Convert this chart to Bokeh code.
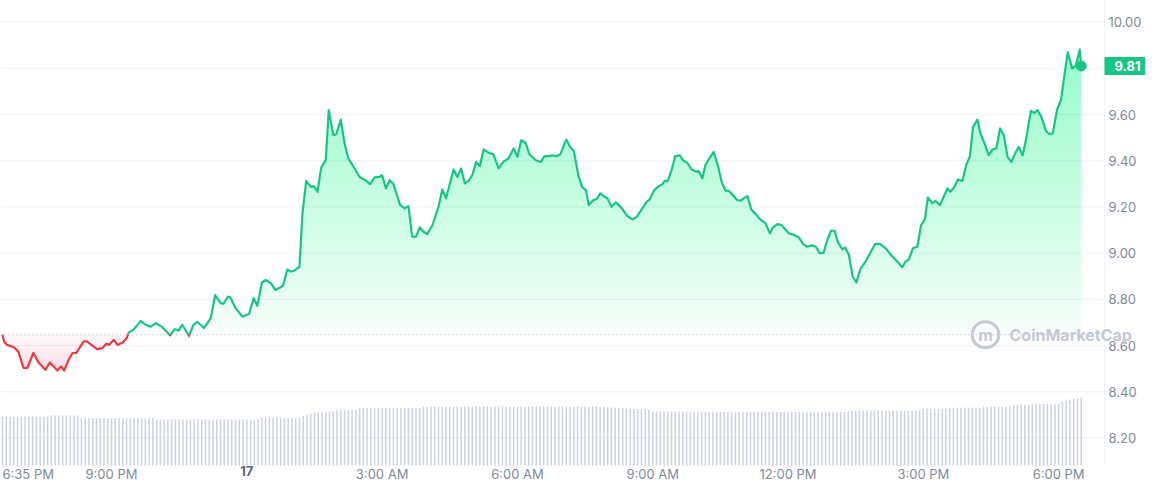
import numpy as np
from bokeh.plotting import figure
from bokeh.models import Range1d, FixedTicker, PrintfTickFormatter, Span, Label
from bokeh.embed import file_html
from bokeh.resources import INLINE

# ---------------- data ----------------
START = 1115  # 6:35 PM (minutes after midnight of the 16th)

# minutes after 6:35 PM
price_t = [0, 2, 6, 15, 21, 28, 33, 41, 48, 57, 63, 68, 73, 78, 82, 88, 93, 98, 108, 112,
           120, 126, 133, 138, 142, 148, 153, 160, 165, 168, 174, 184, 190, 197, 204, 212, 223, 229, 234, 239,
           248, 254, 259, 268, 277, 283, 290, 294, 300, 303, 310, 319, 328, 334, 339, 345, 350, 357, 363, 373,
           379, 383, 388, 395, 399, 404, 410, 414, 419, 424, 430, 434, 440, 444, 450, 455, 460, 467, 475, 481,
           489, 495, 501, 505, 510, 515, 520, 529, 535, 540, 545, 550, 555, 560, 565, 572, 580, 585, 590, 600,
           605, 610, 615, 620, 625, 630, 635, 640, 647, 653, 660, 666, 673, 680, 685, 690, 696, 701, 709, 716,
           721, 727, 731, 737, 742, 750, 755, 760, 766, 771, 776, 780, 785, 791, 795, 801, 805, 810, 816, 824,
           831, 838, 844, 851, 857, 861, 867, 873, 878, 881, 885, 890, 895, 901, 906, 911, 917, 923, 926, 931,
           935, 941, 946, 952, 957, 962, 966, 973, 977, 982, 986, 991, 996, 1002, 1008, 1015, 1021, 1025, 1031, 1036,
           1040, 1046, 1053, 1059, 1065, 1070, 1077, 1082, 1087, 1092, 1097, 1102, 1107, 1111, 1117, 1121, 1126, 1131, 1136, 1141,
           1148, 1154, 1161, 1167, 1175, 1182, 1189, 1197, 1201, 1206, 1211, 1217, 1222, 1227, 1231, 1237, 1241, 1247, 1251, 1257,
           1261, 1266, 1271, 1277, 1282, 1287, 1291, 1297, 1301, 1305, 1312, 1317, 1322, 1327, 1332, 1337, 1342, 1348, 1352, 1357,
           1361, 1368, 1373, 1377, 1382, 1388, 1393, 1397, 1403, 1408, 1413, 1417, 1423, 1428, 1433, 1435]

price_v = [8.647, 8.618, 8.603, 8.593, 8.574, 8.503, 8.503, 8.568, 8.527, 8.495, 8.527, 8.510, 8.492, 8.510, 8.492, 8.539, 8.568, 8.568, 8.618, 8.618,
           8.599, 8.585, 8.589, 8.608, 8.603, 8.625, 8.603, 8.613, 8.632, 8.657, 8.668, 8.707, 8.690, 8.682, 8.697, 8.682, 8.644, 8.671, 8.665, 8.690,
           8.642, 8.690, 8.703, 8.676, 8.719, 8.819, 8.784, 8.781, 8.812, 8.809, 8.762, 8.726, 8.737, 8.805, 8.772, 8.873, 8.884, 8.870, 8.841, 8.858,
           8.930, 8.920, 8.924, 8.942, 9.172, 9.313, 9.287, 9.290, 9.266, 9.371, 9.403, 9.619, 9.511, 9.515, 9.578, 9.475, 9.410, 9.374, 9.330, 9.319,
           9.299, 9.328, 9.330, 9.338, 9.280, 9.316, 9.299, 9.208, 9.194, 9.204, 9.071, 9.071, 9.112, 9.093, 9.083, 9.122, 9.201, 9.276, 9.237, 9.362,
           9.330, 9.367, 9.302, 9.313, 9.338, 9.395, 9.377, 9.449, 9.434, 9.428, 9.367, 9.395, 9.410, 9.453, 9.417, 9.489, 9.477, 9.428, 9.403, 9.395,
           9.420, 9.420, 9.424, 9.420, 9.428, 9.492, 9.460, 9.443, 9.338, 9.287, 9.273, 9.208, 9.227, 9.237, 9.259, 9.244, 9.237, 9.201, 9.220, 9.194,
           9.161, 9.146, 9.158, 9.194, 9.222, 9.233, 9.273, 9.290, 9.299, 9.313, 9.313, 9.359, 9.420, 9.423, 9.400, 9.391, 9.362, 9.352, 9.356, 9.324,
           9.381, 9.414, 9.438, 9.374, 9.305, 9.270, 9.270, 9.247, 9.230, 9.227, 9.237, 9.247, 9.190, 9.169, 9.146, 9.129, 9.086, 9.112, 9.126, 9.122,
           9.108, 9.086, 9.079, 9.069, 9.040, 9.028, 9.034, 9.028, 9.000, 9.000, 9.054, 9.097, 9.097, 9.050, 9.017, 9.025, 8.992, 8.898, 8.873, 8.930,
           8.963, 9.000, 9.040, 9.040, 9.021, 8.992, 8.968, 8.939, 8.963, 8.974, 9.021, 9.028, 9.122, 9.146, 9.241, 9.216, 9.227, 9.208, 9.237, 9.280,
           9.266, 9.285, 9.319, 9.313, 9.381, 9.420, 9.546, 9.578, 9.518, 9.486, 9.424, 9.449, 9.453, 9.540, 9.511, 9.417, 9.395, 9.438, 9.460, 9.424,
           9.482, 9.616, 9.607, 9.619, 9.590, 9.529, 9.515, 9.518, 9.622, 9.662, 9.777, 9.870, 9.799, 9.813, 9.881, 9.810]

# 24h volume, one bar per 5 minutes (relative units)
volume = [197, 197, 197, 197, 197, 197, 197, 197, 197, 197, 197, 197, 197,
          201, 201, 201, 201, 201, 201, 201, 201,
          191, 191, 191, 191, 191, 191, 191, 191, 191, 191, 191, 191, 191, 191, 191, 191, 191, 191, 191, 191,
          185, 185, 185, 185, 185, 185, 185, 185, 185, 185, 185, 185, 185, 185, 185, 185, 185, 185, 185, 185,
          185, 185, 185, 185, 185, 185, 185, 185,
          192, 192, 192, 192, 192, 192, 192, 192, 192, 192, 192,
          200, 204, 208, 212, 214, 216, 216, 217, 218,
          224, 224, 224, 224, 224, 224,
          231, 231, 231, 231, 231, 231, 231, 231, 231, 231, 231, 231, 231, 231, 231, 231, 231,
          237, 237, 237, 237, 237, 237, 237, 237, 237, 237, 237, 237, 237, 237, 237, 237, 237, 237, 237, 237,
          237, 237, 237, 237, 237, 237, 237, 237, 237, 237, 237, 237, 237, 237, 237, 237, 237, 237, 237, 237,
          237, 237, 237, 237, 237, 237, 237, 237,
          235, 234, 233, 232, 232, 231, 230, 229, 228, 227, 226, 225, 224,
          217, 217, 217, 217, 217, 217, 217, 217, 217, 217, 217, 217, 217,
          215, 215, 215, 215, 215, 215, 215, 215, 215, 215, 215, 215, 215, 215, 215, 215, 215, 215, 215,
          216, 216, 216, 216, 216, 216, 216, 216, 216, 216, 216, 216, 216, 216, 216, 216, 216, 216, 216, 216, 216,
          221, 221, 221, 221, 221, 221, 221, 221, 221, 221, 221, 221, 221, 221, 221, 221, 221, 221, 221,
          228, 228, 228, 228, 228, 228, 228,
          232, 232, 232, 232, 232, 232, 232, 232, 232,
          237, 237, 237, 237, 237, 237, 237, 237,
          244, 244, 244, 244, 244,
          248, 248, 248, 248, 248, 248, 248, 248,
          257, 260, 264, 268, 272, 275]

x_ticks = [1260, 1440, 1620, 1800, 1980, 2160, 2340, 2520]
x_labels = ["9:00 PM", "17", "3:00 AM", "6:00 AM", "9:00 AM", "12:00 PM", "3:00 PM", "6:00 PM"]
start_label = "6:35 PM"
y_ticks = [8.2, 8.4, 8.6, 8.8, 9.0, 9.2, 9.4, 9.6, 9.8, 10.0]
y_label_ticks = [8.2, 8.4, 8.6, 8.8, 9.0, 9.2, 9.4, 9.6, 10.0]

# ---------------- styles / layout ----------------
GREEN = "#16c784"
RED = "#ea3943"
GRAY = "#808a9d"
FONT = "Inter"

PX_PER_MIN = 0.7517
PX_PER_UNIT = 231.5
W, H = 1145, 484
X0 = 1112.3
X1 = X0 + W / PX_PER_MIN
X_EDGE = X0 + 1104 / PX_PER_MIN          # right edge of the plotting area
Y1 = 10 + 21.7 / PX_PER_UNIT
Y0 = Y1 - H / PX_PER_UNIT
Y_BOTTOM = Y1 - 466 / PX_PER_UNIT         # bottom of the plotting area
Y_LABEL = Y1 - 466 / PX_PER_UNIT          # top of the time labels
VOL_PER_PX = 4.0

x = START + np.array(price_t, dtype=float)
y = np.array(price_v, dtype=float)
base = y[0]


def with_crossings(xs, ys, level):
    ox, oy = [xs[0]], [ys[0]]
    for i in range(len(xs) - 1):
        y0, y1 = ys[i], ys[i + 1]
        if (y0 - level) * (y1 - level) < 0:
            t = (level - y0) / (y1 - y0)
            ox.append(xs[i] + t * (xs[i + 1] - xs[i]))
            oy.append(level)
        ox.append(xs[i + 1])
        oy.append(y1)
    return np.array(ox), np.array(oy)


p = figure(width=W, height=H,
           x_range=Range1d(X0, X1), y_range=Range1d(Y0, Y1),
           y_axis_location="right", output_backend="svg", toolbar_location=None,
           min_border_left=0, min_border_right=0, min_border_top=0, min_border_bottom=0,
           background_fill_color="white", border_fill_color="white", outline_line_color=None)
p.xgrid.grid_line_color = None
p.ygrid.grid_line_color = None

# volume bars (zero at the bottom of the plotting area)
p.extra_y_ranges = {"vol": Range1d(-(H - 466) * VOL_PER_PX, 466 * VOL_PER_PX)}
vol_x = START + 5 * np.arange(len(volume))
p.vbar(x=vol_x, top=volume, bottom=0, width=2.0, y_range_name="vol",
       fill_color="#ccd2e1", line_color=None)

# horizontal grid lines, ending at the plotting-area edge
p.segment(x0=X0, x1=X_EDGE, y0=y_ticks, y1=y_ticks, line_color="#eff1f4", line_width=1,
          level="underlay")
p.segment(x0=X_EDGE, x1=X_EDGE, y0=Y_BOTTOM, y1=Y1, line_color="#f1f3f6", line_width=1,
          level="underlay")

# baseline (opening price)
p.segment(x0=X0, x1=X_EDGE, y0=base, y1=base, line_color="#a9b1c0",
          line_dash="1 3", line_width=1, level="underlay")

# green gradient fill (stacked translucent layers)
g_levels = np.arange(base, 9.95, 0.025)
for k, lo in enumerate(g_levels):
    xs, ys = with_crossings(x, y, lo)
    a = 0.04 if k == 0 else 0.0065
    p.varea(x=xs, y1=lo, y2=np.maximum(ys, lo), fill_color=GREEN, fill_alpha=a)

# red gradient fill
r_levels = np.arange(base, 8.48, -0.01)
for k, hi in enumerate(r_levels):
    xs, ys = with_crossings(x, y, hi)
    a = 0.03 if k == 0 else 0.008
    p.varea(x=xs, y1=np.minimum(ys, hi), y2=hi, fill_color=RED, fill_alpha=a)

# price line split at baseline
xa, ya = with_crossings(x, y, base)
green_y = np.where(ya >= base - 1e-9, ya, np.nan)
red_y = np.where(ya <= base + 1e-9, ya, np.nan)
p.line(xa, green_y, line_color=GREEN, line_width=2.2, line_join="round")
p.line(xa, red_y, line_color=RED, line_width=2.2, line_join="round")
p.scatter(x=[x[-1]], y=[y[-1]], size=10, fill_color=GREEN, line_color=GREEN)

# axes (labels drawn inward, over the white margin of the plotting area)
p.yaxis.ticker = FixedTicker(ticks=y_label_ticks)
p.yaxis.formatter = PrintfTickFormatter(format="%.2f")
p.yaxis.axis_line_color = None
p.yaxis.major_tick_line_color = None
p.yaxis.minor_tick_line_color = None
p.yaxis.major_tick_out = 0
p.yaxis.major_tick_in = 0
p.yaxis.minor_tick_out = 0
p.yaxis.minor_tick_in = 0
p.yaxis.major_label_standoff = -37
p.yaxis.major_label_text_font = FONT
p.yaxis.major_label_text_font_size = "13px"
p.yaxis.major_label_text_color = GRAY

p.xaxis.ticker = FixedTicker(ticks=x_ticks)
p.xaxis.major_label_overrides = {t: ("" if lab == "17" else lab) for t, lab in zip(x_ticks, x_labels)}
p.xaxis.axis_line_color = None
p.xaxis.major_tick_line_color = None
p.xaxis.minor_tick_line_color = None
p.xaxis.major_tick_out = 0
p.xaxis.major_tick_in = 0
p.xaxis.minor_tick_out = 0
p.xaxis.minor_tick_in = 0
p.xaxis.major_label_standoff = -18
p.xaxis.major_label_text_font = FONT
p.xaxis.major_label_text_font_size = "13px"
p.xaxis.major_label_text_color = GRAY

for t, lab in zip(x_ticks, x_labels):
    if lab == "17":
        p.add_layout(Label(x=t, y=Y_LABEL, text=lab, text_align="center", text_baseline="top",
                           text_font=FONT, text_font_size="13px", text_font_style="bold",
                           text_color="#58667e"))
p.add_layout(Label(x=START, y=Y_LABEL, text=start_label, text_align="left", text_baseline="top",
                   text_font=FONT, text_font_size="13px", text_color=GRAY))

# last price tag
p.add_layout(Label(x=X_EDGE, y=y[-1], text=f"{y[-1]:.2f}", text_align="left", text_baseline="middle",
                   x_offset=0, text_font=FONT, text_font_size="13px", text_font_style="bold",
                   text_color="white", background_fill_color=GREEN, padding=(10, 9, 4, 4)))

# watermark
WM = "#c5c9d4"
p.add_layout(Label(x=X0 + 985 / PX_PER_MIN, y=base, text="m", text_align="center", text_baseline="middle",
                   text_font=FONT, text_font_size="16px", text_font_style="bold", text_color=WM,
                   border_line_color=WM, border_line_width=3, border_radius=14,
                   padding=(6, 6, 3, 3)))
p.add_layout(Label(x=X0 + 1009 / PX_PER_MIN, y=base, text="CoinMarketCap", text_align="left",
                   text_baseline="middle", text_font=FONT, text_font_size="16px",
                   text_font_style="bold", text_color=WM))

open("out.html", "w").write(file_html(p, INLINE))
